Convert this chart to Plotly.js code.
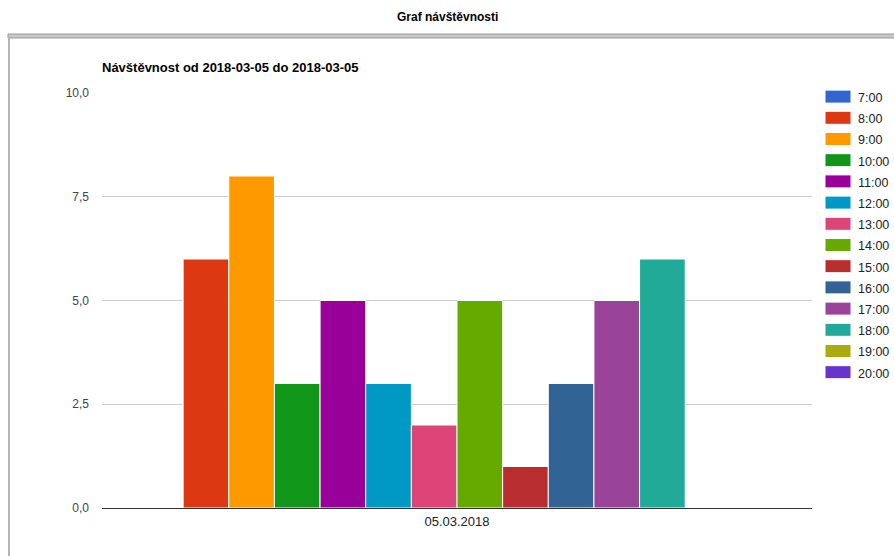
<!DOCTYPE html>
<html>
<head>
<meta charset="utf-8">
<script src="https://cdn.plot.ly/plotly-3.0.1.min.js"></script>
<style>html,body{margin:0;padding:0;background:#fff;}#chart{width:894px;height:556px;}</style>
</head>
<body>
<div id="chart"></div>
<script>
const category = ['05.03.2018'];
const hours = ['7:00','8:00','9:00','10:00','11:00','12:00','13:00','14:00','15:00','16:00','17:00','18:00','19:00','20:00'];
const visits = [0, 6, 8, 3, 5, 3, 2, 5, 1, 3, 5, 6, 0, 0];
const colors = ['#3366cc','#dc3912','#ff9900','#109618','#990099','#0099c6','#dd4477','#66aa00','#b82e2e','#316395','#994499','#22aa99','#aaaa11','#6633cc'];
const yTicks = [0, 2.5, 5, 7.5, 10];

const L = 102, R = 812, T = 93, B = 508;
const px = v => (v - L) / (R - L);
const py = v => (B - v) / (B - T);

const traces = hours.map((h, i) => ({
  type: 'bar',
  name: '<span style="font-size:12.5px">' + h + '</span>',
  x: category,
  y: [visits[i]],
  marker: {color: colors[i], line: {color: '#ffffff', width: 1}},
  hoverinfo: 'y'
}));

const layout = {
  width: 894, height: 556,
  margin: {l: L, r: 894 - R, t: T, b: 556 - B, autoexpand: false},
  paper_bgcolor: '#ffffff', plot_bgcolor: '#ffffff',
  font: {family: 'Arial, "Liberation Sans", sans-serif', size: 12, color: '#444'},
  separators: ', ',
  barmode: 'group', bargap: 0.1, bargroupgap: 0,
  showlegend: true,
  legend: {x: px(818), xanchor: 'left', y: py(81), yanchor: 'top', maxheight: 1,
           font: {size: 14, color: '#222'}, tracegroupgap: 0, bgcolor: 'rgba(0,0,0,0)'},
  xaxis: {type: 'category', showgrid: false, zeroline: false, showline: false, ticks: '',
          ticklabelstandoff: 4, tickfont: {size: 13, color: '#222'}, fixedrange: true},
  yaxis: {range: [0, 10], tickvals: yTicks, tickformat: '.1f', gridcolor: '#cccccc',
          zeroline: true, zerolinecolor: '#333333', zerolinewidth: 1, showline: false,
          ticks: '', ticklabelstandoff: 12, tickfont: {size: 12, color: '#444'}, fixedrange: true},
  annotations: [
    {text: '<b>Graf návštěvnosti</b>', xref: 'paper', yref: 'paper', x: px(447), y: py(17),
     xanchor: 'center', yanchor: 'middle', showarrow: false, font: {size: 12, color: '#000'}},
    {text: '<b>Návštěvnost od 2018-03-05 do 2018-03-05</b>', xref: 'paper', yref: 'paper',
     x: px(100), y: py(67), xanchor: 'left', yanchor: 'middle', showarrow: false,
     font: {size: 13, color: '#000'}}
  ],
  shapes: [
    {type: 'rect', xref: 'paper', yref: 'paper', x0: px(8), x1: px(900), y0: py(34), y1: py(38),
     fillcolor: '#c8c8c8', line: {color: '#9a9a9a', width: 1}, layer: 'above'},
    {type: 'line', xref: 'paper', yref: 'paper', x0: px(9), x1: px(9), y0: py(36), y1: py(560),
     line: {color: '#b5b5b5', width: 2}, layer: 'above'}
  ]
};

function widenLegendSymbols(gd) {
  gd.querySelectorAll('.legend .legendpoints path').forEach(p => {
    p.setAttribute('d', 'M13,6.5H-13V-6.5H13Z');
  });
}

Plotly.newPlot('chart', traces, layout, {displayModeBar: false, staticPlot: true}).then(gd => {
  widenLegendSymbols(gd);
  gd.on('plotly_afterplot', () => widenLegendSymbols(gd));
});
</script>
</body>
</html>
